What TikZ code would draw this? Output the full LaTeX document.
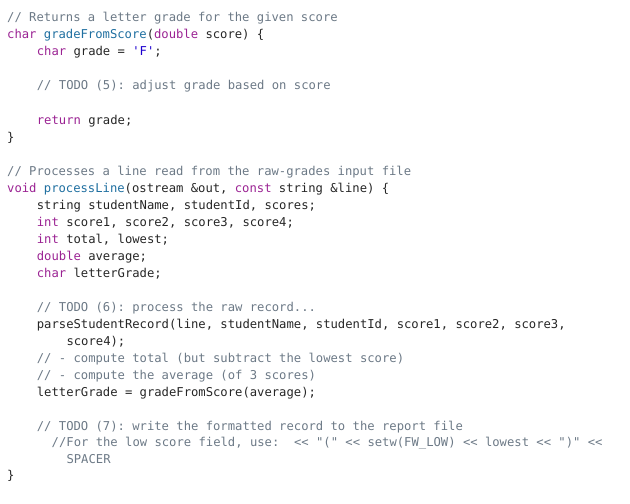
\documentclass[tikz,border=0pt]{standalone}
\usepackage{fontspec}
\setmonofont{DejaVu Sans Mono}
\definecolor{cm}{HTML}{6C7986}
\definecolor{kw}{HTML}{9B2393}
\definecolor{fn}{HTML}{1F6FA0}
\definecolor{chl}{HTML}{1C00CF}
\definecolor{tx}{HTML}{262626}
\newcommand\kw[1]{\textcolor{kw}{#1}}
\newcommand\fn[1]{\textcolor{fn}{#1}}
\newcommand\cmt[1]{\textcolor{cm}{#1}}
\tikzset{codeline/.style={anchor=base west,inner sep=0pt,text=tx,font=\ttfamily\fontsize{12.2}{14}\selectfont}}
\newcommand\codeln[4]{\node[codeline] (#1) at ({7+#3*7.42pt},{504pt-#2pt-4pt}) {#4};}
\begin{document}
\begin{tikzpicture}[x=1pt,y=1pt]
\useasboundingbox (0,0) rectangle (630,504);
\codeln{l1}{18}{0}{\cmt{// Returns a letter grade for the given score}}
\codeln{l2}{35}{0}{\kw{char} \fn{gradeFromScore}(\kw{double} score) \{}
\codeln{l3}{52}{4}{\kw{char} grade = \textcolor{chl}{'F'};}
\codeln{l5}{86}{4}{\cmt{// TODO (5): adjust grade based on score}}
\codeln{l7}{121}{4}{\kw{return} grade;}
\codeln{l8}{138}{0}{\}}
\codeln{l10}{172}{0}{\cmt{// Processes a line read from the raw-grades input file}}
\codeln{l11}{189}{0}{\kw{void} \fn{processLine}(ostream \&out, \kw{const} string \&line) \{}
\codeln{l12}{205.5}{4}{string studentName, studentId, scores;}
\codeln{l13}{222.5}{4}{\kw{int} score1, score2, score3, score4;}
\codeln{l14}{239.5}{4}{\kw{int} total, lowest;}
\codeln{l15}{256.5}{4}{\kw{double} average;}
\codeln{l16}{273.5}{4}{\kw{char} letterGrade;}
\codeln{l18}{307.5}{4}{\cmt{// TODO (6): process the raw record...}}
\codeln{l19}{324.5}{4}{parseStudentRecord(line, studentName, studentId, score1, score2, score3,}
\codeln{l20}{341.5}{8}{score4);}
\codeln{l21}{358.5}{4}{\cmt{// - compute total (but subtract the lowest score)}}
\codeln{l22}{375.5}{4}{\cmt{// - compute the average (of 3 scores)}}
\codeln{l23}{392.5}{4}{letterGrade = gradeFromScore(average);}
\codeln{l25}{426.5}{4}{\cmt{// TODO (7): write the formatted record to the report file}}
\codeln{l26}{443}{6}{\cmt{//For the low score field, use:\ \ << "(" << setw(FW\_LOW) << lowest << ")" <<}}
\codeln{l27}{460}{8}{\cmt{SPACER}}
\codeln{l28}{476}{0}{\}}
\end{tikzpicture}
\end{document}
